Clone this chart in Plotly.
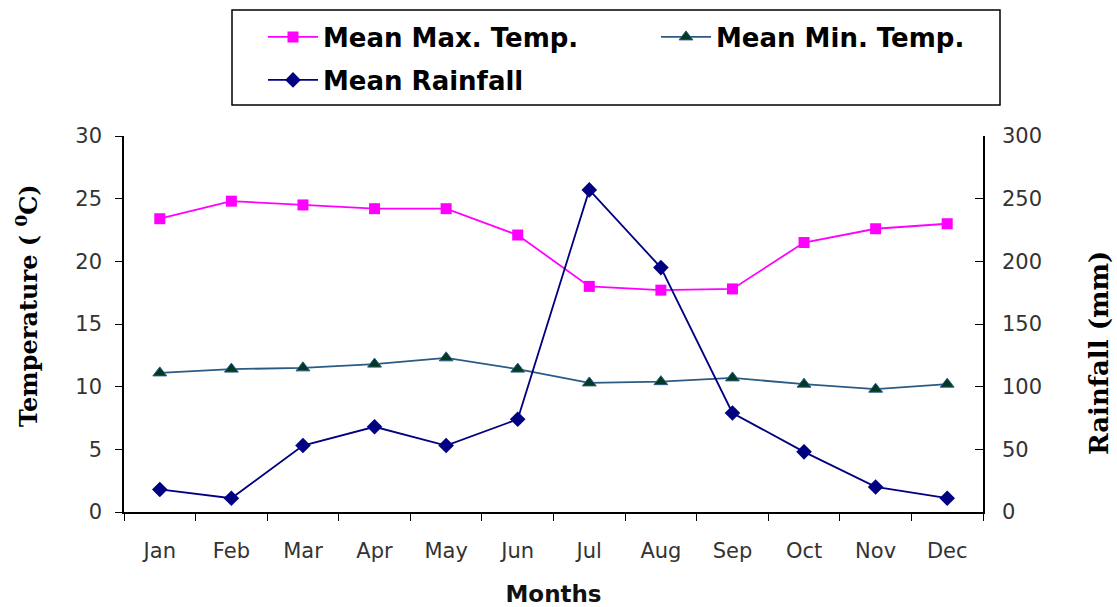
import plotly.graph_objects as go

# Monthly climate normals
months = ["Jan", "Feb", "Mar", "Apr", "May", "Jun",
          "Jul", "Aug", "Sep", "Oct", "Nov", "Dec"]
max_temp = [23.4, 24.8, 24.5, 24.2, 24.2, 22.1, 18.0, 17.7, 17.8, 21.5, 22.6, 23.0]
min_temp = [11.1, 11.4, 11.5, 11.8, 12.3, 11.4, 10.3, 10.4, 10.7, 10.2, 9.8, 10.2]
rainfall = [18, 11, 53, 68, 53, 74, 257, 195, 79, 48, 20, 11]

temp_ticks = [0, 5, 10, 15, 20, 25, 30]
rain_ticks = [0, 50, 100, 150, 200, 250, 300]

W, H = 1117, 607
ML, MR, MT, MB = 124, 134, 136, 95
pw, ph = W - ML - MR, H - MT - MB

def px_x(x):
    return (x - ML) / pw

def px_y(y):
    return (H - MB - y) / ph

tick_font = dict(family="DejaVu Sans", size=21, color="#333333")
legend_font = dict(family="DejaVu Sans", size=26, color="black")
serif_title = dict(family="DejaVu Serif", size=24, color="black")

fig = go.Figure()
fig.add_trace(go.Scatter(
    x=months, y=max_temp, name="<b>Mean Max. Temp.</b>", mode="lines+markers",
    line=dict(color="#FF00FF", width=1.8),
    marker=dict(symbol="square", size=11, color="#FF00FF"),
    legend="legend",
))
fig.add_trace(go.Scatter(
    x=months, y=min_temp, name="<b>Mean Min. Temp.</b>", mode="lines+markers",
    line=dict(color="#2B5B84", width=1.8),
    marker=dict(symbol="triangle-up", size=12, color="#013A20",
                line=dict(color="#2B5B84", width=1)),
    legend="legend",
))
fig.add_trace(go.Scatter(
    x=months, y=rainfall, name="<b>Mean Rainfall</b>", mode="lines+markers",
    yaxis="y2",
    line=dict(color="#000080", width=1.8),
    marker=dict(symbol="diamond", size=12, color="#000080"),
    legend="legend2",
))

fig.update_layout(
    width=W, height=H,
    margin=dict(l=ML, r=MR, t=MT, b=MB, autoexpand=False),
    paper_bgcolor="white", plot_bgcolor="white",
    xaxis=dict(
        type="category", range=[-0.5, 11.5], tickson="boundaries",
        ticks="outside", ticklen=7, automargin=False,
        tickcolor="black", showline=True, linecolor="black", linewidth=1.5,
        showgrid=False, zeroline=False, tickfont=tick_font,
        ticklabelstandoff=19,
        title=dict(text="<b>Months</b>", standoff=29,
                   font=dict(family="DejaVu Sans", size=23, color="#111111")),
    ),
    yaxis=dict(
        range=[0, 30], tickvals=temp_ticks, ticks="outside", ticklen=7,
        tickcolor="black", showline=True, linecolor="black", linewidth=1.5,
        showgrid=False, zeroline=False, tickfont=tick_font, ticklabelstandoff=9,
        automargin=False,
    ),
    yaxis2=dict(
        range=[0, 300], tickvals=rain_ticks, overlaying="y", side="right",
        ticks="inside", ticklen=8, tickcolor="black", showline=True,
        linecolor="black", linewidth=1.5, showgrid=False, zeroline=False,
        tickfont=tick_font, ticklabelstandoff=13, automargin=False,
    ),
    showlegend=True,
    legend=dict(
        orientation="h", xref="container", yref="container",
        x=263 / W, y=1 - 37 / H, xanchor="left", yanchor="middle",
        entrywidth=328, font=legend_font, bgcolor="rgba(0,0,0,0)",
        itemwidth=50,
    ),
    legend2=dict(
        orientation="h", xref="container", yref="container",
        x=263 / W, y=1 - 80 / H, xanchor="left", yanchor="middle",
        font=legend_font, bgcolor="rgba(0,0,0,0)", itemwidth=50,
    ),
    shapes=[dict(
        type="rect", xref="paper", yref="paper",
        x0=px_x(232), x1=px_x(1000), y0=px_y(105), y1=px_y(10),
        line=dict(color="black", width=1.5), fillcolor="rgba(0,0,0,0)",
    )],
    annotations=[
        dict(text="<b>Temperature ( <sup>0</sup>C)</b>", textangle=-90,
             xref="paper", yref="paper", x=px_x(27), y=px_y(306),
             showarrow=False, xanchor="center", yanchor="middle",
             font=serif_title),
        dict(text="<b>Rainfall (mm)</b>", textangle=-90,
             xref="paper", yref="paper", x=px_x(1099), y=px_y(353),
             showarrow=False, xanchor="center", yanchor="middle",
             font=dict(family="DejaVu Serif", size=26, color="black")),
    ],
)

fig.write_html("out.html")
